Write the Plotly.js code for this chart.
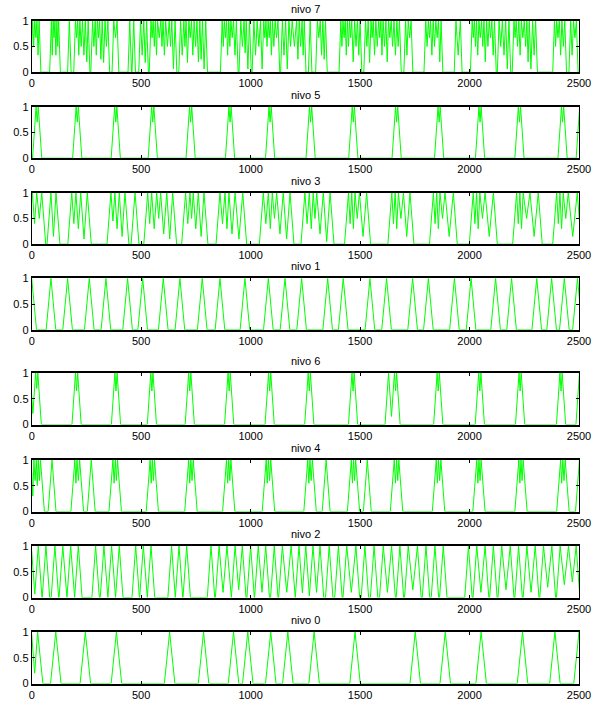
<!DOCTYPE html>
<html>
<head>
<meta charset="utf-8">
<script src="https://cdn.plot.ly/plotly-3.0.1.min.js"></script>
<style>html,body{margin:0;padding:0;background:#fff;}#chart{width:593px;height:704px;}</style>
</head>
<body>
<div id="chart"></div>
<script>
// Panel order (top to bottom) and titles
const titles = ['nivo 7', 'nivo 5', 'nivo 3', 'nivo 1', 'nivo 6', 'nivo 4', 'nivo 2', 'nivo 0'];

// Axis ticks
const xTickVals = [0, 500, 1000, 1500, 2000, 2500];
const xTickText = ['0', '500', '1000', '1500', '2000', '2500'];
const yTickVals = [0, 0.5, 1];
const yTickText = ['0', '0.5', '1'];

// Peaks: [x, dip after this peak (0 = back to zero), peak height (default 1)]
const nivo7 = [[4,.5],[14,.67],[24,.33],[34,0],
  [90,.33],[98,.67],[106,.33],[115,.5],[123,0],[172,0],
  [200,.67],[210,.33],[220,.5],[232,.33],[245,.2],[258,0],
  [278,.5],[290,.33],[300,.67],[310,0],[322,0],[335,.5],[348,0],[375,.67],[390,0],
  [448,0],[466,0],[497,.33],[512,0],[525,0],
  [545,.67],[555,.5],[565,.33],[575,.67],[590,.5],[600,.33],[612,.5],[628,.5],[640,0],[655,0],
  [680,.33],[695,.5],[705,0],[718,.67],[730,.33],[742,.5],[755,.2],[768,0],[780,0],[795,0],
  [870,.5],[880,.67],[890,.33],[900,.5],[910,.67],[922,.33],[935,0],
  [955,.5],[970,0],[980,0],[995,0],[1015,.33],[1030,.5],[1045,0],
  [1060,.67],[1070,.5],[1080,.67],[1090,.33],[1100,.5],[1112,.67],[1125,0],
  [1145,.33],[1160,0],[1175,.5],[1190,.5],[1210,0],[1222,.5],[1235,.33],[1245,0],[1272,0],
  [1305,.67],[1318,.33],[1330,0],[1342,0],
  [1412,.5],[1422,.67],[1432,.33],[1442,.5],[1452,.67],[1462,.2],[1475,.5],[1488,.33],[1500,0],
  [1525,.5],[1537,0],
  [1550,.67],[1560,.33],[1572,.5],[1585,.67],[1595,.33],[1605,.5],[1618,.2],[1630,.67],[1642,.5],[1655,.33],[1668,.5],[1680,0],
  [1708,.33],[1720,.67],[1733,0],
  [1800,.5],[1812,.67],[1822,.33],[1834,.5],[1846,.67],[1858,.2],[1870,0],
  [1938,.33],[1958,0],
  [2012,.67],[2022,.5],[2032,.33],[2043,.67],[2055,.5],[2066,.2],[2078,.5],[2090,.67],[2102,.33],[2114,0],
  [2135,.5],[2150,.33],[2165,0],[2180,0],
  [2203,.67],[2213,.5],[2225,.33],[2237,.67],[2250,.5],[2262,.2],[2273,0],[2288,.33],[2302,0],
  [2388,.5],[2398,.67],[2410,.33],[2422,.5],[2435,0],[2462,.33],[2475,.67],[2488,0]];

const nivo5 = [[-10,0,.7],[20,.7],[30,0],[203,.7],[213,0],[379,.7],[389,0],[548,.7],[558,0],
  [721,.7],[731,0],[901,.7],[911,0],[1084,.7],[1094,0],[1269,.7],[1279,0],[1464,.7],[1474,0],
  [1662,.7],[1672,0],[1856,.7],[1866,0],[2043,.7],[2053,0],[2223,.7],[2233,0],[2420,.7],[2430,0],[2503,0]];

const nivo3 = [[3,.4],[23,.5],[46,0],[88,.15],[111,0],
  [183,.4],[202,.3],[224,.1],[254,0],
  [362,.45],[380,.3],[400,.15],[426,0],[472,0],
  [530,.4],[548,.3],[571,.5],[589,.2],[617,.1],[644,0],
  [703,.4],[723,.5],[738,.3],[761,.15],[787,0],
  [860,.4],[883,.3],[901,.2],[929,.1],[964,0],
  [1058,.4],[1081,.3],[1099,.5],[1119,.2],[1149,.1],[1180,0],
  [1248,.4],[1268,.3],[1286,.5],[1302,.2],[1332,.05],[1363,0],
  [1447,.4],[1462,.3],[1477,.5],[1497,.15],[1530,0],
  [1645,.4],[1660,.3],[1675,.5],[1698,.15],[1728,0],
  [1835,.4],[1850,.3],[1865,.5],[1888,.15],[1926,0],
  [2017,.4],[2032,.3],[2047,.5],[2071,.15],[2109,0],
  [2215,.4],[2230,.3],[2245,.5],[2276,.15],[2314,0],
  [2398,.4],[2413,.3],[2428,.5],[2451,.15],[2492,0]];

const nivo1 = [[0,0],[88,0],[164,0],[263,0],[339,0],[438,0],[507,0],[601,0],[677,0],[779,0],
  [860,0],[974,0],[1081,0],[1157,0],[1233,0],[1352,0],[1423,0],[1545,0],[1621,0],[1740,0],
  [1812,0],[1931,0],[2007,0],[2119,0],[2192,0],[2307,0],[2375,0],[2433,0],[2493,0]];

const nivo6 = [[-4,0,.8],[18,.7],[28,0],[200,.65],[210,0],[380,.65],[390,0],[544,.65],[554,0],
  [717,.65],[727,0],[897,.65],[907,0],[1082,.65],[1092,0],[1263,.65],[1273,0],[1463,.65],[1473,0],
  [1630,0],[1657,.65],[1667,0],[1852,.65],[1862,0],[2042,.65],[2052,0],[2226,.65],[2236,0],
  [2413,.65],[2423,0],[2502,0]];

const nivo4 = [[0,.3,.75],[10,.6],[21,.5],[30,.6],[40,0],[93,0],
  [197,.55],[207,.6],[219,0],[272,0],[371,.55],[382,.6],[392,0],[541,.55],[551,.6],[561,0],
  [717,.55],[727,.6],[738,0],[890,.55],[900,.6],[910,0],[1071,.55],[1081,.6],[1092,0],
  [1261,.55],[1271,.6],[1282,0],[1345,0],[1460,.55],[1470,.6],[1480,0],[1533,0],
  [1656,.55],[1667,.6],[1677,0],[1848,.55],[1858,.6],[1869,0],[2033,.55],[2043,.6],[2053,0],
  [2225,.55],[2235,.6],[2245,0],[2416,.55],[2426,.6],[2437,0],[2502,0]];

const nivo2 = [[0,0,.9],[30,0],[65,0],[106,0],[142,0],[178,0],[213,0],[292,0],[330,0],[365,0],
  [400,0],[475,0],[510,0],[545,0],[639,0],[673,0],[708,0],[819,0],[856,.1],[892,0],[929,.15],
  [962,0],[1000,0],[1035,.1],[1069,0],[1108,0],[1145,.1],[1185,0],[1221,0],[1252,0],[1285,.1],
  [1317,0],[1359,0],[1401,0],[1439,.1],[1481,0],[1522,0],[1564,0],[1606,.1],[1644,0],[1682,0],
  [1720,.15],[1762,0],[1801,0],[1842,0],[1880,0],[1995,0],[2033,.1],[2071,0],[2109,0],[2147,.15],
  [2186,0],[2224,0],[2262,.1],[2300,0],[2338,.2],[2376,0],[2414,.25],[2452,.3],[2487,.4]];

const nivo0 = [[0,.2,.95],[27,0],[110,0],[245,0],[387,0],[630,0],[785,0],[922,0],[987,0],
  [1092,0],[1170,0],[1290,0],[1477,0],[1752,0],[1889,0],[2053,0],[2242,0],[2390,0],[2500,0]];

const series = [nivo7, nivo5, nivo3, nivo1, nivo6, nivo4, nivo2, nivo0];
const halfWidths = [8, 16, 18, 22, 16, 18, 17, 24];

// Build the polyline vertices from the peak table
function buildLine(peaks, hw) {
  const xs = [], ys = [];
  for (let i = 0; i < peaks.length; i++) {
    const p = peaks[i][0];
    const h = peaks[i][2] === undefined ? 1 : peaks[i][2];
    if (i === 0) { xs.push(p - hw * h); ys.push(0); }
    xs.push(p); ys.push(h);
    if (i < peaks.length - 1) {
      const d = peaks[i][1];
      const q = peaks[i + 1][0];
      const h2 = peaks[i + 1][2] === undefined ? 1 : peaks[i + 1][2];
      if (d > 0) { xs.push((p + q) / 2); ys.push(d); }
      else {
        const rb = p + hw * h, lb = q - hw * h2;
        if (rb <= lb) { xs.push(rb, lb); ys.push(0, 0); }
        else {
          const x = (hw * (h - h2) + p + q) / 2;
          xs.push(x); ys.push(Math.max(0, h - (x - p) / hw));
        }
      }
    } else { xs.push(p + hw * h); ys.push(0); }
  }
  return {xs, ys};
}

// Panel placement (pixels from the top of the 704 px page)
const panelTops = [20.7, 106.7, 192.7, 278.3, 373, 460, 546, 632];
const panelHeight = 51.5;
const H = 704, W = 593;
const axLeft = 31.7, axRight = 579;

const data = [];
const layout = {
  width: W, height: H,
  margin: {l: 0, r: 0, t: 0, b: 0},
  paper_bgcolor: '#fff', plot_bgcolor: '#fff',
  showlegend: false,
  font: {family: 'Liberation Sans, Arial, sans-serif', size: 11, color: '#000'},
  annotations: []
};

series.forEach((pk, i) => {
  const n = i + 1;
  const suf = n === 1 ? '' : String(n);
  const line = buildLine(pk, halfWidths[i]);
  data.push({
    x: line.xs, y: line.ys, type: 'scatter', mode: 'lines',
    line: {color: '#00ff00', width: 1},
    xaxis: 'x' + suf, yaxis: 'y' + suf, hoverinfo: 'skip'
  });
  const top = panelTops[i], bot = top + panelHeight;
  layout['xaxis' + suf] = {
    domain: [axLeft / W, axRight / W], range: [0, 2500], anchor: 'y' + suf,
    tickvals: xTickVals, ticktext: xTickText, ticks: 'inside', ticklen: 3, tickcolor: '#000',
    showline: true, linecolor: '#000', linewidth: 2, mirror: 'ticks',
    showgrid: false, zeroline: false, fixedrange: true,
    tickfont: {size: 11, color: '#000'}
  };
  layout['yaxis' + suf] = {
    domain: [1 - bot / H, 1 - top / H], range: [0, 1], anchor: 'x' + suf,
    tickvals: yTickVals, ticktext: yTickText, ticks: 'inside', ticklen: 3, tickcolor: '#000',
    showline: true, linecolor: '#000', linewidth: 1, mirror: 'ticks',
    showgrid: false, zeroline: false, fixedrange: true,
    tickfont: {size: 11, color: '#000'}
  };
  layout.annotations.push({
    text: titles[i], showarrow: false,
    xref: 'x' + suf + ' domain', yref: 'y' + suf + ' domain', x: 0.5, y: 1,
    xanchor: 'center', yanchor: 'middle', yshift: 12,
    font: {size: 11, color: '#000'}
  });
});

Plotly.newPlot('chart', data, layout, {displayModeBar: false, staticPlot: true});
</script>
</body>
</html>
